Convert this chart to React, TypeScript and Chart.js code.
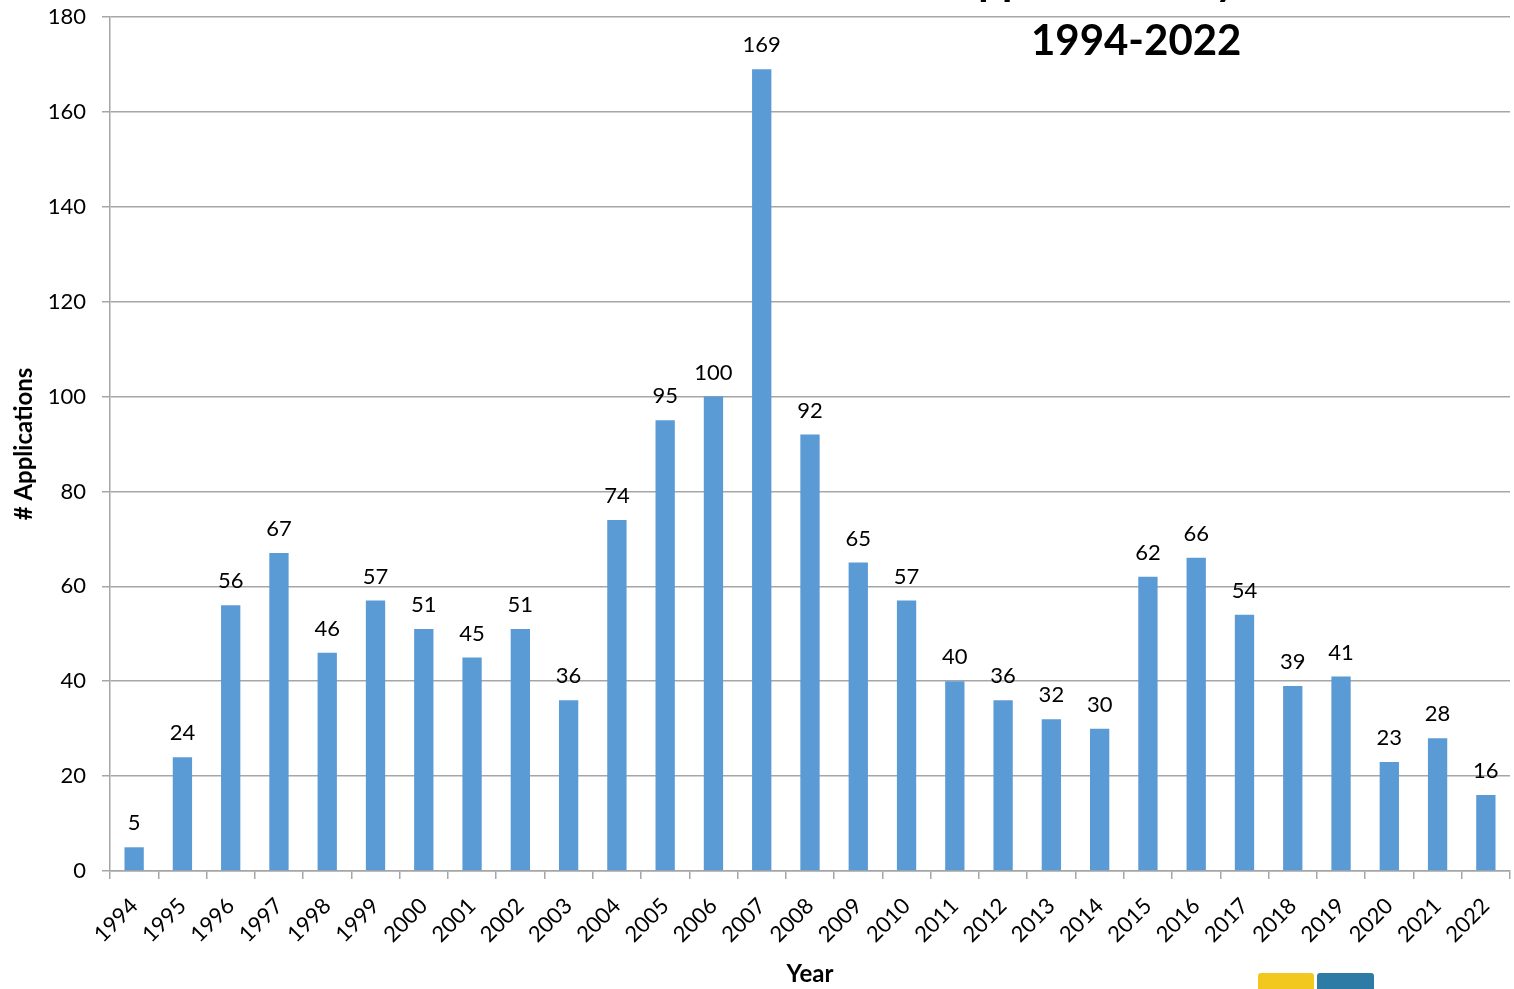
import React, { useEffect, useRef } from "react";
import { Chart, registerables } from "chart.js";

Chart.register(...registerables);

const years: string[] = [
  "1994", "1995", "1996", "1997", "1998", "1999", "2000", "2001", "2002", "2003",
  "2004", "2005", "2006", "2007", "2008", "2009", "2010", "2011", "2012", "2013",
  "2014", "2015", "2016", "2017", "2018", "2019", "2020", "2021", "2022",
];
const applications: number[] = [
  5, 24, 56, 67, 46, 57, 51, 45, 51, 36,
  74, 95, 100, 169, 92, 65, 57, 40, 36, 32,
  30, 62, 66, 54, 39, 41, 23, 28, 16,
];
const titleLines: string[] = ["Applications by Year", "1994-2022"];
const yTitle = "# Applications";
const xTitle = "Year";

const FONT = "Lato, 'Open Sans', sans-serif";

const valueLabels = {
  id: "valueLabels",
  afterDatasetsDraw(chart: any) {
    const ctx = chart.ctx;
    const meta = chart.getDatasetMeta(0);
    ctx.save();
    ctx.font = `22px ${FONT}`;
    ctx.fillStyle = "#000";
    ctx.textAlign = "center";
    ctx.textBaseline = "bottom";
    meta.data.forEach((bar: any, i: number) => {
      ctx.fillText(String(applications[i]), bar.x, bar.y - 13);
    });
    ctx.restore();
  },
};

const overlayTitle = {
  id: "overlayTitle",
  afterDraw(chart: any) {
    const ctx = chart.ctx;
    const area = chart.chartArea;
    const cx = area.left + (area.right - area.left) * 0.733;
    ctx.save();
    ctx.font = `bold 42px ${FONT}`;
    ctx.fillStyle = "#000";
    ctx.textAlign = "center";
    ctx.textBaseline = "alphabetic";
    ctx.fillText(titleLines[0], cx + 3, -5);
    ctx.fillText(titleLines[1], cx, 55);
    // small logos bottom-right
    ctx.fillStyle = "#F2C81E";
    ctx.beginPath();
    (ctx as any).roundRect(1258, 973, 56, 30, 3);
    ctx.fill();
    ctx.fillStyle = "#2E7BA6";
    ctx.beginPath();
    (ctx as any).roundRect(1317, 973, 57, 30, 3);
    ctx.fill();
    ctx.restore();
  },
};

export default function App() {
  const canvasRef = useRef<HTMLCanvasElement | null>(null);

  useEffect(() => {
    if (!canvasRef.current) return;
    const chart = new Chart(canvasRef.current, {
      type: "bar",
      data: {
        labels: years,
        datasets: [
          {
            data: applications,
            backgroundColor: "#5B9BD5",
            borderWidth: 0,
            barPercentage: 0.4,
            categoryPercentage: 1,
          },
        ],
      },
      options: {
        animation: false,
        responsive: false,
        maintainAspectRatio: false,
        layout: { padding: { top: 17, right: 4, left: 0, bottom: 0 } },
        plugins: {
          legend: { display: false },
          tooltip: { enabled: false },
          title: { display: false },
        },
        scales: {
          x: {
            grid: {
              offset: true,
              drawOnChartArea: false,
              drawTicks: true,
              tickLength: 8,
              color: "#A6A6A6",
              lineWidth: 1.5,
            },
            border: { color: "#A6A6A6", width: 1.5 },
            ticks: {
              color: "#000",
              font: { family: FONT, size: 22 },
              minRotation: 45,
              maxRotation: 45,
              autoSkip: false,
              padding: 14,
            },
            title: {
              display: true,
              text: xTitle,
              color: "#000",
              font: { family: FONT, size: 24, weight: "bold" },
              padding: { top: 0, bottom: 0 },
            },
            afterFit(scale: any) {
              scale.height = 118;
              scale.paddingLeft = 0;
              scale.paddingRight = 0;
            },
          },
          y: {
            min: 0,
            max: 180,
            ticks: {
              stepSize: 20,
              color: "#000",
              font: { family: FONT, size: 22 },
              padding: 16,
            },
            grid: {
              color: "#A6A6A6",
              lineWidth: 1.5,
              tickLength: 8,
              drawTicks: true,
            },
            border: { color: "#A6A6A6", width: 1.5 },
            title: {
              display: true,
              text: yTitle,
              color: "#000",
              font: { family: FONT, size: 24, weight: "bold" },
              padding: { top: 10, bottom: 0 },
            },
            afterFit(scale: any) {
              scale.width = 110;
              scale.paddingTop = 0;
              scale.paddingBottom = 0;
            },
          },
        },
      },
      plugins: [valueLabels, overlayTitle],
    });
    return () => chart.destroy();
  }, []);

  return (
    <div style={{ position: "fixed", left: 0, top: 0, width: 1514, height: 989, background: "#fff" }}>
      <canvas ref={canvasRef} width={1514} height={989} style={{ width: 1514, height: 989 }} />
    </div>
  );
}
